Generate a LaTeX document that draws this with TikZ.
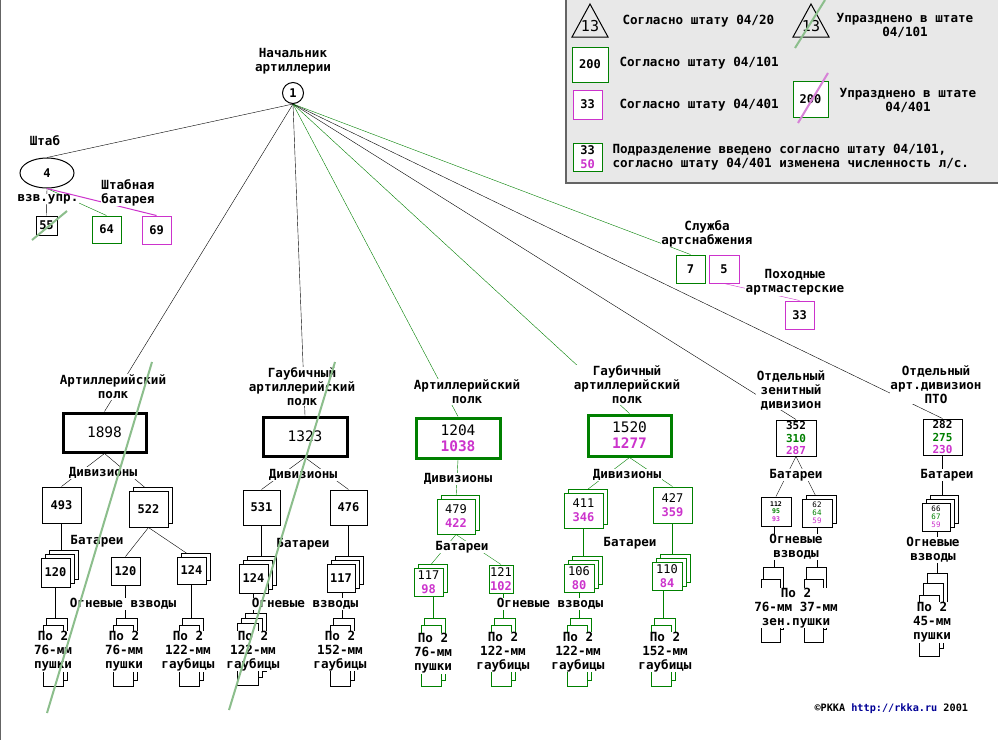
\documentclass[tikz,border=0pt]{standalone}
\usepackage{fontspec}
\setmonofont{DejaVu Sans Mono}
\usetikzlibrary{shadows,shapes.geometric,backgrounds}
\definecolor{grn}{RGB}{0,128,0}
\definecolor{mag}{RGB}{204,51,204}
\definecolor{sgrn}{RGB}{140,190,140}
\definecolor{smag}{RGB}{215,130,215}
\definecolor{lgbg}{RGB}{232,232,232}
\definecolor{lgbd}{RGB}{100,100,100}
\definecolor{cblue}{RGB}{0,0,150}
\newcommand\lblfont{\fontsize{12.6}{14}\selectfont\ttfamily\bfseries}
\newcommand\bignum{\fontsize{14.5}{16}\selectfont\ttfamily}
\newcommand\midnum{\fontsize{12}{14}\selectfont\ttfamily\bfseries}
\newcommand\twonum{\fontsize{12}{14}\selectfont\ttfamily}
\newcommand\smnum{\fontsize{11}{12.3}\selectfont\ttfamily\bfseries}
\newcommand\tinynum{\fontsize{6.5}{7.5}\selectfont\ttfamily\bfseries}
\newcommand\tnum{\fontsize{7.5}{8}\selectfont\ttfamily}
\newcommand\trinum{\fontsize{15}{16}\selectfont\ttfamily}
\newcommand\cpfont{\fontsize{10.2}{12}\selectfont\ttfamily\bfseries}
\tikzset{
 lbl/.style={font=\lblfont, align=center, fill=white, inner sep=0.5pt},
 lgl/.style={font=\lblfont, align=center, inner sep=0pt},
 bx/.style={draw, fill=white, inner sep=0pt, align=center, font=\midnum},
 sz/.style 2 args={minimum width=#1pt, minimum height=#2pt},
 thk/.style={line width=3pt},
 sh1/.style={copy shadow={shadow xshift=4pt, shadow yshift=4pt, draw=#1, fill=white, line width=1pt}},
 sh2/.style={copy shadow={shadow xshift=8pt, shadow yshift=8pt, draw=#1, fill=white, line width=1pt},
             copy shadow={shadow xshift=4pt, shadow yshift=4pt, draw=#1, fill=white, line width=1pt}},
 strk/.style={sgrn, line width=2pt},
 pics/pltwo/.style={code={
   \draw[fill=white] (-9,0) rectangle (12,62);
   \draw[fill=white] (-12,7) rectangle (8,68);}},
 pics/plthree/.style={code={
   \draw[fill=white] (-8,0) rectangle (13,58);
   \draw[fill=white] (-12,5) rectangle (9,64);
   \draw[fill=white] (-16,10) rectangle (5,72);}},
 pics/plzen/.style={code={
   \draw[fill=white] (-11,0) rectangle (9,62);
   \draw[fill=white] (-13,12) rectangle (6,75);}},
 pics/plpto/.style={code={
   \draw[fill=white] (-10,0) rectangle (10,68);
   \draw[fill=white] (-14,10) rectangle (6,75);
   \draw[fill=white] (-18,22) rectangle (2,83);}},
}
\begin{document}
\begin{tikzpicture}[x=1pt,y=-1pt,line width=1pt]
\useasboundingbox (0,0) rectangle (998,740);
\begin{scope}[on background layer]
\fill[white] (0,0) rectangle (998,740);
\end{scope}
\draw[lgbd] (0.5,0) -- (0.5,740);

% ---------- legend ----------
\fill[lgbg] (565,-2) rectangle (1000,183);
\draw[lgbd, line width=2pt] (566,-2) -- (566,183) -- (1000,183);
\draw (590,4) -- (608,37) -- (572,37) -- cycle;
\node[font=\trinum, inner sep=0pt] (t13a) at (590,26) {13};
\node[lgl, anchor=west] (lg1) at (622,21) {Согласно штату 04/20};
\draw (811,4) -- (829,37) -- (793,37) -- cycle;
\node[font=\trinum, inner sep=0pt] (t13b) at (811,26) {13};
\node[lgl] (lg2) at (905,25) {Упразднено в штате\\04/101};
\node[bx, draw=grn, sz={36}{35}] (lgb200) at (590,64.5) {200};
\node[lgl, anchor=west] (lg3) at (619,63) {Согласно штату 04/101};
\node[bx, draw=mag, sz={29}{29}] (lgb33) at (587.5,104.5) {33};
\node[lgl, anchor=west] (lg4) at (619,105) {Согласно штату 04/401};
\node[bx, draw=grn, sz={35}{36}] (lgb200b) at (810.5,99) {200};
\node[lgl] (lg5) at (908,100) {Упразднено в штате\\04/401};
\node[bx, draw=grn, sz={29}{28}] (lgb3350) at (587.5,157) {33\\\textcolor{mag}{50}};
\node[lgl, anchor=west, align=left] (lg6) at (612,157) {Подразделение введено согласно штату 04/101,\\согласно штату 04/401 изменена численность л/с.};
\draw[strk] (795,48) -- (825,0);
\draw[smag, line width=2pt] (798,123) -- (828,73);

% ---------- top ----------
\node[circle, draw, fill=white, minimum size=21pt, inner sep=0pt, font=\midnum] (n1) at (293,93) {1};
\node[lbl] (ln1) at (293,61.5) {Начальник\\артиллерии};
\node[ellipse, draw, fill=white, minimum width=54pt, minimum height=30pt, inner sep=0pt, font=\midnum] (shtab) at (47,173) {4};
\node[lbl] (lshtab) at (45,141) {Штаб};
\node[lbl] (lvzv) at (48,199) {взв.упр.};
\node[bx, sz={21}{19}] (b55) at (46.5,225.5) {55};
\node[bx, draw=grn, sz={29}{27}] (b64) at (106.5,229.5) {64};
\node[bx, draw=mag, sz={29}{28}] (b69) at (156.5,230) {69};
\draw[mag] (shtab.south) -- (b69.north);
\node[lbl] (lshb) at (128,192.5) {Штабная\\батарея};
\node[lbl] (lsl) at (707,233.5) {Служба\\артснабжения};
\node[bx, draw=grn, sz={29}{28}] (b7) at (690.5,269) {7};
\node[bx, draw=mag, sz={30}{28}] (b5) at (724,269) {5};
\node[lbl] (lpm) at (795,282.5) {Походные\\артмастерские};
\node[bx, draw=mag, sz={29}{28}] (b33) at (799.5,315) {33};

% ---------- regiment 1 ----------
\node[bx, thk, font=\bignum, sz={83}{39}] (r1) at (104.5,432.5) {1898};
\node[lbl] (lr1) at (113,387) {Артиллерийский\\полк};
\node[lbl] (ldv1) at (103,473) {Дивизионы};
\node[bx, sz={39}{36}] (d493) at (61.5,505) {493};
\node[bx, sz={39}{36}, sh1=black] (d522) at (148.5,509) {522};
\node[lbl] (lbt1) at (97,541) {Батареи};
\node[bx, sz={29}{29}, sh2=black] (b120a) at (55.5,572.5) {120};
\node[bx, sz={29}{28}] (b120b) at (125.5,571) {120};
\node[bx, sz={29}{27}, sh1=black] (b124a) at (191.5,570.5) {124};
\coordinate (pa1) at (55,618);
\coordinate (pa2) at (125,618);
\coordinate (pa3) at (191,618);

% ---------- regiment 2 ----------
\node[bx, thk, font=\bignum, sz={84}{39}] (r2) at (305,436.5) {1323};
\node[lbl] (lr2) at (302,386.5) {Гаубичный\\артиллерийский\\полк};
\node[lbl] (ldv2) at (303,475) {Дивизионы};
\node[bx, sz={37}{35}] (d531) at (261.5,507.5) {531};
\node[bx, sz={37}{35}] (d476) at (348.5,507.5) {476};
\node[lbl] (lbt2) at (303,544) {Батареи};
\node[bx, sz={29}{29}, sh2=black] (b124b) at (253.5,578.5) {124};
\node[bx, sz={28}{28}, sh2=black] (b117a) at (341,578) {117};
\coordinate (pb1) at (253,613);
\coordinate (pb2) at (342,618);

% ---------- regiment 3 ----------
\node[bx, draw=grn, thk, font=\bignum, sz={84}{40}] (r3) at (458,438) {1204\\\textcolor{mag}{\bfseries 1038}};
\node[lbl] (lr3) at (467,392) {Артиллерийский\\полк};
\node[lbl] (ldv3) at (458,479) {Дивизионы};
\node[bx, draw=grn, font=\twonum, sz={38}{35}, sh1=grn] (d479) at (456,516.5) {479\\\textcolor{mag}{\bfseries 422}};
\node[lbl] (lbt3) at (462,547) {Батареи};
\node[bx, draw=grn, font=\twonum, sz={29}{28}, sh1=grn] (b117b) at (428.5,582) {117\\\textcolor{mag}{\bfseries 98}};
\node[bx, draw=grn, font=\twonum, sz={24}{28}] (b121) at (501,579) {121\\\textcolor{mag}{\bfseries 102}};
\coordinate (pc1) at (433,618);
\coordinate (pc2) at (503,618);

% ---------- regiment 4 ----------
\node[bx, draw=grn, thk, font=\bignum, sz={83}{41}] (r4) at (629.5,435.5) {1520\\\textcolor{mag}{\bfseries 1277}};
\node[lbl] (lr4) at (627,385) {Гаубичный\\артиллерийский\\полк};
\node[lbl] (ldv4) at (627,475) {Дивизионы};
\node[bx, draw=grn, font=\twonum, sz={39}{35}, sh1=grn] (d411) at (583.5,510.5) {411\\\textcolor{mag}{\bfseries 346}};
\node[bx, draw=grn, font=\twonum, sz={39}{36}] (d427) at (672.5,505) {427\\\textcolor{mag}{\bfseries 359}};
\node[lbl] (lbt4) at (630,543) {Батареи};
\node[bx, draw=grn, font=\twonum, sz={30}{28}, sh2=grn] (b106) at (579,578) {106\\\textcolor{mag}{\bfseries 80}};
\node[bx, draw=grn, font=\twonum, sz={30}{28}, sh2=grn] (b110) at (667,576) {110\\\textcolor{mag}{\bfseries 84}};
\coordinate (pd1) at (579,618);
\coordinate (pd2) at (663,618);

% ---------- zenith division ----------
\node[lbl] (lz) at (791,390) {Отдельный\\зенитный\\дивизион};
\node[bx, sz={40}{36}, font=\smnum] (z352) at (796,438) {352\\\textcolor{grn}{310}\\\textcolor{mag}{287}};
\node[lbl] (lbz) at (796,475) {Батареи};
\node[bx, sz={30}{29}, font=\tinynum] (z112) at (776,511.5) {112\\\textcolor{grn}{95}\\\textcolor{mag}{93}};
\node[bx, sz={30}{28}, font=\tnum, sh1=black] (z62) at (817,513) {62\\\textcolor{grn}{64}\\\textcolor{mag}{59}};
\coordinate (pz1) at (774,567);
\coordinate (pz2) at (817,567);

% ---------- PTO division ----------
\node[lbl] (lp) at (936,384.5) {Отдельный\\арт.дивизион\\ПТО};
\node[bx, sz={39}{36}, font=\smnum] (p282) at (942.5,437) {282\\\textcolor{grn}{275}\\\textcolor{mag}{230}};
\node[lbl] (lbp) at (947,475) {Батареи};
\node[bx, sz={28}{28}, font=\tnum, sh2=black] (p66) at (936,517) {66\\\textcolor{grn}{67}\\\textcolor{mag}{59}};
\coordinate (pp1) at (937,573);

% ---------- connectors ----------
\begin{scope}[on background layer]
\draw (n1.south) -- (shtab.north);
\draw (n1.south) -- (r1.north);
\draw (n1.south) -- (r2.north);
\draw[grn] (n1.south) -- (r3.north);
\draw[grn] (n1.south) -- (r4.north);
\draw (n1.south) -- (z352.north);
\draw (n1.south) -- (p282.north);
\draw[grn] (n1.south) -- (b7.north);
\draw (shtab.south) -- (b55.north);
\draw[grn] (shtab.south) -- (b64.north);
\draw[mag] (b5.south) -- (b33.north);
% reg 1
\draw (r1.south) -- (d493.north);
\draw (r1.south) -- (d522.north);
\draw (d493.south) -- (d493.south |- b120a.north);
\draw (d522.south) -- (b120b.north);
\draw (d522.south) -- (b124a.north);
\draw (pa1) -- (pa1 |- b120a.center);
\draw (pa2) -- (pa2 |- b120b.center);
\draw (pa3) -- (pa3 |- b124a.center);
% reg 2
\draw (r2.south) -- (d531.north);
\draw (r2.south) -- (d476.north);
\draw (d531.south) -- (d531.south |- b124b.north);
\draw (d476.south) -- (d476.south |- b117a.north);
\draw (pb1) -- (pb1 |- b124b.center);
\draw (pb2) -- (pb2 |- b117a.center);
% reg 3
\draw[grn] (r3.south) -- (d479.north);
\draw[grn] (d479.south) -- (b117b.north);
\draw[grn] (d479.south) -- (b121.north);
\draw[grn] (pc1) -- (pc1 |- b117b.center);
\draw[grn] (pc2) -- (pc2 |- b121.center);
% reg 4
\draw[grn] (r4.south) -- (d411.north);
\draw[grn] (r4.south) -- (d427.north);
\draw[grn] (d411.south) -- (d411.south |- b106.north);
\draw[grn] (d427.south) -- (d427.south |- b110.north);
\draw[grn] (pd1) -- (pd1 |- b106.center);
\draw[grn] (pd2) -- (pd2 |- b110.center);
% zenith
\draw (z352.south) -- (z112.north);
\draw (z352.south) -- (z62.north);
\draw (pz1) -- (pz1 |- z112.center);
\draw (pz2) -- (pz2 |- z62.center);
% PTO
\draw (p282.south) -- (p282.south |- p66.north);
\draw (pp1) -- (pp1 |- p66.center);
\end{scope}

% ---------- fire platoons ----------
\pic at (pa1) {pltwo};
\pic at (pa2) {pltwo};
\pic at (pa3) {pltwo};
\pic at (pb1) {plthree};
\pic at (pb2) {pltwo};
\pic[color=grn] at (pc1) {pltwo};
\pic[color=grn] at (pc2) {pltwo};
\pic[color=grn] at (pd1) {pltwo};
\pic[color=grn] at (pd2) {pltwo};
\pic at (pz1) {plzen};
\pic at (pz2) {plzen};
\pic at (pp1) {plpto};

\node[lbl] (log1) at (123,604) {Огневые взводы};
\node[lbl] (log2) at (305,604) {Огневые взводы};
\node[lbl] (log3) at (550,604) {Огневые взводы};
\node[lbl] (logz) at (796,547) {Огневые\\взводы};
\node[lbl] (logp) at (933,550) {Огневые\\взводы};

\node[lbl] (ta1) at (53,651.5) {По 2\\76-мм\\пушки};
\node[lbl] (ta2) at (124,651.5) {По 2\\76-мм\\пушки};
\node[lbl] (ta3) at (188,651.5) {По 2\\122-мм\\гаубицы};
\node[lbl] (tb1) at (253,651) {По 2\\122-мм\\гаубицы};
\node[lbl] (tb2) at (340,651) {По 2\\152-мм\\гаубицы};
\node[lbl] (tc1) at (433,653.5) {По 2\\76-мм\\пушки};
\node[lbl] (tc2) at (503,652) {По 2\\122-мм\\гаубицы};
\node[lbl] (td1) at (578,652) {По 2\\122-мм\\гаубицы};
\node[lbl] (td2) at (665,652) {По 2\\152-мм\\гаубицы};
\node[lbl] (tz) at (796,608) {По 2\\76-мм 37-мм\\зен.пушки};
\node[lbl] (tp) at (932,622.5) {По 2\\45-мм\\пушки};

% ---------- strikes ----------
\draw[strk] (47,713) -- (152,362);
\draw[strk] (229,710) -- (335,362);
\draw[strk] (32,240) -- (67,211);

% ---------- copyright ----------
\node[anchor=west, font=\cpfont, inner sep=0pt] (cp) at (814,709) {©РККА \textcolor{cblue}{http://rkka.ru} 2001};
\end{tikzpicture}
\end{document}
